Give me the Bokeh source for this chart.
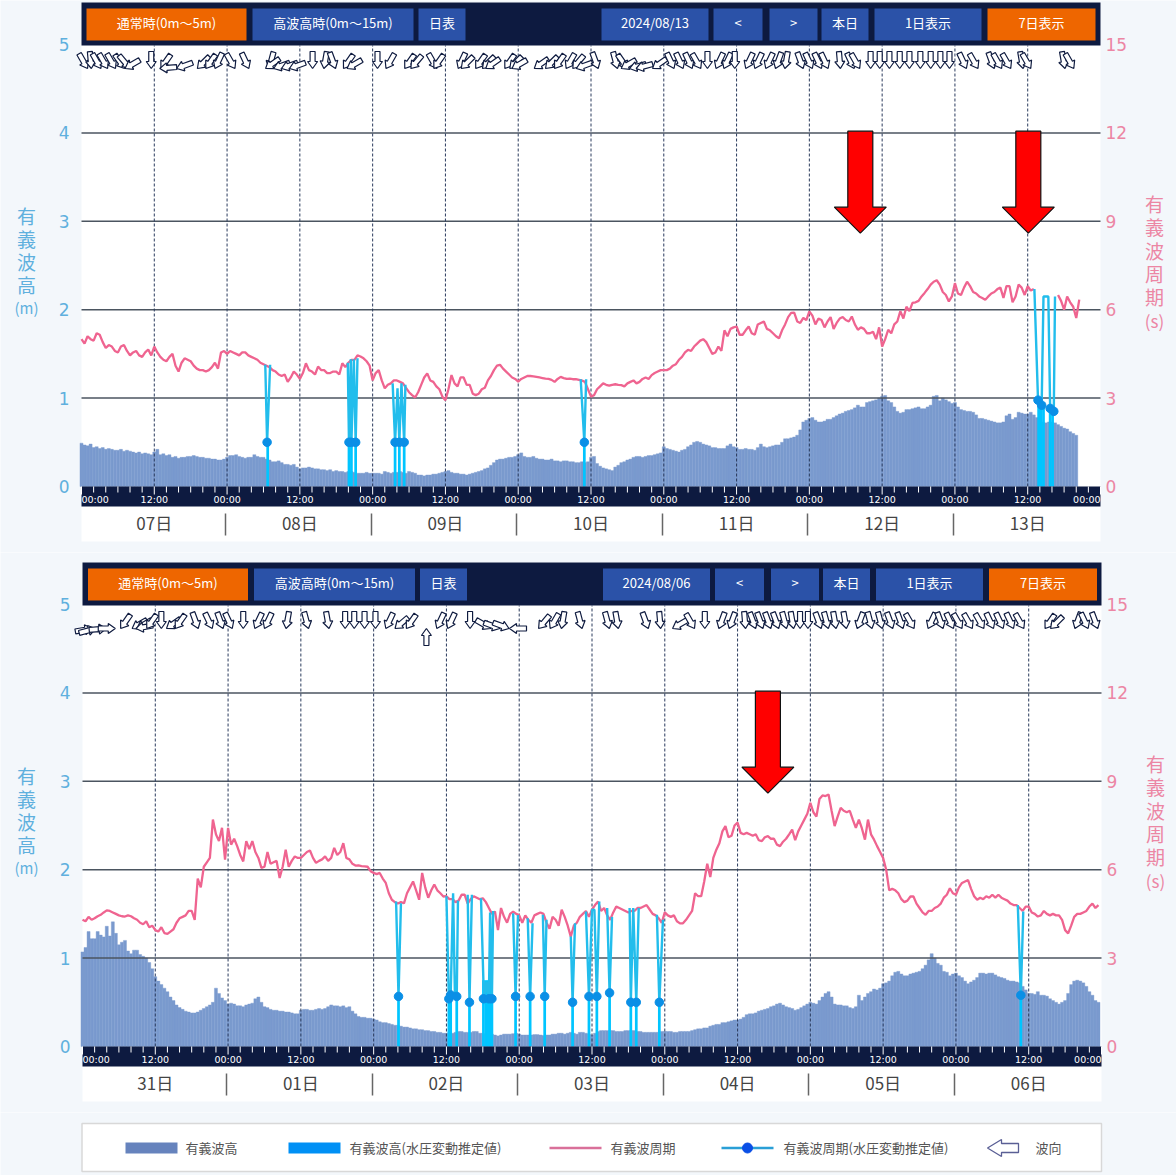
import math
from bokeh.plotting import figure
from bokeh.layouts import column
from bokeh.models import Range1d, LinearAxis, FixedTicker
from bokeh.core.properties import value
from bokeh.embed import file_html
from bokeh.resources import INLINE

NAN = float("nan")
STEP = 0.5  # hours between samples
# ---------- chart 1 (2024/08/07 - 13) ----------
days1 = ["07日", "08日", "09日", "10日", "11日", "12日", "13日"]
date1 = "2024/08/13"
height1 = [.49,.47,.46,.48,.44,.45,.43,.44,.42,.43,.42,.41,.41,.42,.40,.41,.40,.39,.38,.39,.37,.38,.37,.36,.39,.42,.36,.37,.35,.36,.33,.34,.32,.33,.33,.34,.34,.35,.34,.33,.33,.32,.32,.31,.31,.30,.30,.31,
           .33,.35,.35,.36,.34,.33,.32,.33,.33,.36,.34,.33,.33,.31,.30,.28,.28,.29,.27,.25,.25,.24,.25,.22,.20,.21,.21,.22,.21,.20,.20,.19,.19,.18,.19,.17,.18,.17,.17,.16,.17,.17,.16,.15,.15,.15,.16,.15,
           .15,.15,.15,.14,.17,.16,.15,.16,.16,.17,.16,.15,.17,.16,.15,.13,.13,.12,.13,.13,.14,.14,.15,.16,.17,.18,.16,.15,.15,.14,.14,.13,.14,.15,.16,.17,.18,.20,.21,.24,.27,.30,.31,.31,.32,.33,.33,.34,
           .36,.38,.34,.33,.33,.34,.32,.31,.31,.30,.30,.31,.29,.29,.28,.29,.29,.28,.28,.27,.27,.28,.27,.28,.33,.34,.26,.23,.21,.20,.19,.18,.22,.24,.27,.28,.30,.31,.33,.34,.34,.33,.34,.35,.35,.36,.37,.38,
           .45,.43,.42,.41,.40,.39,.41,.42,.45,.47,.50,.51,.50,.48,.47,.46,.44,.44,.43,.43,.43,.46,.48,.45,.44,.42,.42,.43,.42,.42,.41,.44,.48,.45,.44,.45,.46,.47,.47,.50,.54,.54,.55,.56,.58,.64,.73,.75,
           .77,.78,.75,.73,.73,.74,.76,.76,.78,.80,.82,.83,.85,.86,.87,.89,.92,.90,.90,.95,.96,.97,.98,1.0,1.02,1.03,.97,.95,.90,.85,.83,.84,.87,.87,.88,.89,.90,.88,.88,.90,.92,1.02,1.03,.97,1.00,.98,.96,.94,
           .95,.90,.87,.86,.85,.85,.84,.81,.77,.77,.76,.75,.74,.73,.72,.72,.73,.80,.82,.76,.78,.84,.83,.82,.82,.84,.81,.78,.74,.73,.72,.73,.73,.72,.70,.68,.66,.65,.62,.60,.58]
period1 = [5.0,4.85,5.1,5.0,4.95,5.2,5.15,4.9,4.7,4.8,4.75,4.6,4.55,4.75,4.8,4.6,4.45,4.55,4.6,4.45,4.4,4.55,4.65,4.45,4.75,4.55,4.4,4.3,4.25,4.4,4.5,4.1,3.9,4.2,4.35,4.3,4.25,4.1,4.0,3.95,3.95,3.9,3.95,4.05,4.2,4.0,4.55,4.6,
           4.5,4.6,4.55,4.5,4.45,4.55,4.55,4.45,4.4,4.35,4.3,4.2,4.15,4.1,4.05,3.95,3.9,3.8,3.75,3.8,3.55,3.7,3.9,3.8,3.65,3.85,4.18,3.95,3.9,3.8,4.07,3.95,3.95,3.85,3.85,3.9,3.9,3.8,4.18,4.05,4.2,4.3,4.3,4.45,4.41,4.35,4.25,4.1,
           3.6,3.85,3.95,3.6,3.33,3.45,3.5,3.6,3.6,3.55,3.5,3.35,3.2,3.1,3.02,3.2,3.45,3.7,3.84,3.6,3.55,3.4,3.3,3.05,2.93,3.3,3.78,3.5,3.4,3.7,3.7,3.45,3.45,3.15,3.1,3.15,3.3,3.35,3.6,3.75,3.95,4.1,4.13,4.0,3.9,3.8,3.7,3.65,
           3.56,3.65,3.7,3.75,3.75,3.74,3.72,3.7,3.68,3.66,3.65,3.62,3.55,3.65,3.72,3.68,3.65,3.66,3.64,3.64,3.62,3.6,3.55,3.3,3.05,3.1,3.3,3.4,3.5,3.45,3.42,3.45,3.47,3.45,3.44,3.4,3.5,3.55,3.6,3.5,3.55,3.65,3.7,3.65,3.78,3.85,3.9,3.95,
           3.95,3.95,4.0,4.1,4.15,4.3,4.4,4.55,4.64,4.6,4.75,4.85,4.95,5.0,4.9,4.7,4.5,4.55,4.75,4.6,5.3,5.1,5.35,5.4,5.43,5.15,5.15,5.3,5.43,5.2,5.15,5.5,5.55,5.6,5.35,5.3,5.2,5.1,5.03,5.3,5.5,5.75,5.89,5.9,5.6,5.55,5.72,5.65,
           5.94,5.8,5.5,5.7,5.65,5.4,5.6,5.75,5.35,5.55,5.7,5.75,5.65,5.6,5.77,5.5,5.32,5.4,5.35,5.2,5.2,5.25,5.0,5.4,4.75,5.0,5.32,5.2,5.5,5.6,5.95,5.7,6.1,5.95,6.23,6.25,6.3,6.45,6.57,6.7,6.85,6.95,7.0,6.85,6.6,6.5,6.28,6.45,
           6.9,6.55,6.5,6.75,6.95,6.8,6.6,6.55,6.45,6.4,6.34,6.45,6.55,6.6,6.7,6.75,6.4,6.8,6.8,6.25,6.45,6.85,6.75,6.5,6.8,6.65,6.7,NAN,NAN,NAN,NAN,NAN,NAN,NAN,6.5,6.3,6.0,6.45,6.25,6.1,5.72,6.34]
pp_h1 = [30.3,30.6,31.1,NAN,43.9,44.1,44.4,44.5,44.9,45.2,45.5,NAN,51.3,51.7,52.1,52.4,52.75,53.2,53.4,NAN,
         82.3,82.9,83.2,NAN,157.1,157.7,158.3,158.6,159.4,159.7,160.3,160.5]
pp_v1 = [4.13,1.5,4.13,NAN,4.2,1.5,4.32,1.5,4.32,1.5,4.35,NAN,3.5,1.5,3.33,1.5,3.5,1.5,3.45,NAN,
         3.64,1.5,3.64,NAN,6.7,2.93,2.76,6.45,6.45,2.65,2.55,6.45]
dot_h1 = [30.6,44.1,44.5,45.2,51.7,52.4,53.2,82.9,157.7,158.3,159.7,160.3]
dot_v1 = [1.5,1.5,1.5,1.5,1.5,1.5,1.5,1.5,2.93,2.76,2.65,2.55]
bar_h1 = [30.7,44.1,44.5,45.2,51.7,52.4,53.2,82.9,157.8,158.2,158.6,159.7,160.1]
bar_t1 = [.5,.5,.5,.5,.5,.5,.5,.5,.95,.92,.9,.88,.85]
dir_h1 = [.3,1.5,2.5,3.6,4.9,6.3,7.1,8.4,11.5,13.9,14.3,17.0,20.1,21.3,22.6,24.6,27.0,31.3,31.5,33.0,34.3,35.6,38.1,40.2,41.4,
          44.0,45.0,48.8,50.9,54.1,55.2,57.9,58.9,62.7,63.6,65.8,67.1,67.8,70.6,71.6,72.2,75.8,77.5,78.8,80.6,81.9,82.9,84.7,
          88.0,89.2,90.2,91.7,92.8,95.3,97.1,98.6,100.1,101.4,103.2,105.2,106.5,107.7,110.1,111.6,113.4,114.9,116.2,118.5,119.9,
          121.4,122.5,125.0,126.8,127.6,130.1,131.6,133.2,134.9,136.5,138.3,140.0,141.6,143.1,145.3,147.1,150.0,151.0,152.5,155.0,155.8,161.9,162.9]
dir_d1 = [150,175,150,150,150,145,140,240,180,215,265,250,225,215,205,150,155,195,235,250,250,250,180,190,160,
          215,240,180,210,215,220,150,215,205,225,215,225,235,215,225,240,235,225,215,210,220,250,160,
          165,145,240,255,255,235,155,155,155,150,180,205,205,180,205,205,205,200,190,160,155,
          155,155,175,155,150,180,180,180,180,180,180,180,180,180,155,150,160,150,150,170,150,170,150]
mark_h1 = [128.4, 156.1]

# ---------- chart 2 (2024/07/31 - 08/06) ----------
days2 = ["31日", "01日", "02日", "03日", "04日", "05日", "06日"]
date2 = "2024/08/06"
height2 = [1.07,1.12,1.30,1.22,1.22,1.30,1.26,1.24,1.36,1.25,1.41,1.28,1.15,1.18,1.20,1.08,1.05,1.09,1.09,1.04,1.02,1.0,.95,.88,.79,.74,.70,.66,.62,.56,.52,.47,.44,.42,.40,.39,.38,.38,.39,.41,.43,.45,.47,.50,.66,.60,.55,.52,
           .48,.49,.48,.46,.46,.45,.47,.48,.49,.54,.56,.50,.45,.44,.42,.41,.41,.40,.40,.39,.39,.38,.37,.37,.41,.42,.42,.41,.41,.42,.43,.42,.43,.45,.47,.46,.46,.45,.46,.44,.45,.40,.37,.34,.33,.33,.32,.32,
           .31,.30,.28,.27,.27,.26,.25,.24,.24,.23,.22,.22,.21,.20,.20,.19,.19,.18,.18,.17,.17,.16,.16,.15,.15,.16,.15,.16,.17,.17,.16,.16,.16,.17,.17,.15,.15,.14,.14,.14,.13,.12,.13,.14,.14,.14,.145,.15,
           .14,.13,.13,.13,.13,.135,.135,.13,.125,.13,.13,.14,.14,.15,.15,.14,.15,.16,.15,.14,.16,.16,.15,.14,.13,.15,.17,.18,.18,.18,.18,.18,.17,.17,.17,.18,.18,.18,.18,.17,.17,.16,.16,.16,.16,.16,.16,.17,
           .17,.17,.17,.16,.16,.17,.17,.17,.17,.18,.19,.20,.2,.21,.21,.23,.24,.25,.25,.27,.27,.28,.29,.30,.30,.31,.33,.36,.37,.37,.38,.40,.41,.42,.43,.45,.46,.48,.49,.47,.45,.44,.43,.41,.42,.44,.46,.48,
           .5,.49,.48,.52,.56,.60,.62,.56,.48,.47,.47,.46,.46,.44,.43,.45,.58,.52,.56,.60,.62,.65,.64,.66,.71,.72,.74,.80,.84,.85,.82,.80,.80,.82,.83,.84,.85,.88,.92,.98,1.05,1.0,.94,.92,.85,.84,.80,.82,
           .83,.80,.78,.74,.71,.73,.75,.78,.83,.83,.82,.83,.83,.81,.79,.78,.77,.75,.74,.74,.73,.72,.68,.64,.60,.60,.59,.62,.58,.58,.57,.54,.52,.50,.48,.50,.52,.60,.70,.74,.75,.74,.72,.68,.62,.58,.52,.50]
period2 = [4.3,4.25,4.4,4.3,4.35,4.42,4.47,4.55,4.62,4.6,4.55,4.5,4.45,4.42,4.41,4.45,4.42,4.35,4.3,4.2,4.15,4.25,4.05,4.1,3.95,3.9,4.05,3.85,3.82,3.9,3.98,4.2,4.35,4.4,4.45,4.6,4.6,4.3,5.7,5.4,6.1,6.25,6.4,7.7,7.2,6.97,7.42,6.34,
           7.42,6.85,7.05,6.8,6.5,6.28,6.97,6.7,6.97,6.6,6.4,6.06,6.1,6.6,6.2,6.25,6.3,5.72,6.1,6.68,6.1,6.3,6.45,6.4,6.4,6.5,6.6,6.65,6.4,6.23,6.3,6.35,6.45,6.3,6.4,6.74,6.5,6.6,6.9,6.4,6.35,6.2,6.14,6.15,6.12,6.11,6.1,5.95,
           5.89,5.85,5.89,5.7,5.55,5.2,4.98,4.9,4.85,4.9,4.86,5.2,5.4,5.6,5.3,4.98,5.89,5.4,5.05,5.3,5.5,5.3,5.2,5.09,5.1,5.0,5.0,4.9,4.95,5.15,5.15,4.85,5.0,5.1,5.05,5.0,5.03,4.9,4.7,4.5,4.58,3.95,4.7,4.4,4.2,4.5,4.58,4.5,
           4.45,4.2,4.45,4.3,4.2,4.45,4.5,4.55,4.5,4.2,4.0,4.4,4.3,4.1,4.64,4.4,4.1,3.73,4.1,4.2,4.4,4.5,4.6,4.4,4.65,4.8,4.92,4.6,4.7,4.45,4.3,4.55,4.75,4.7,4.65,4.6,4.55,4.6,4.6,4.7,4.7,4.75,4.8,4.65,4.5,4.45,4.35,4.2,
           4.55,4.45,4.4,4.45,4.25,4.18,4.18,4.3,4.45,4.6,5.2,5.1,5.1,5.6,6.2,5.75,6.4,6.68,6.9,7.3,7.48,7.1,7.15,7.5,7.6,7.25,7.2,7.25,7.2,7.15,7.2,7.0,6.97,7.1,7.14,7.05,7.05,6.85,6.8,6.95,7.05,7.2,7.36,7.0,7.3,7.5,7.7,7.9,
           8.27,7.95,7.8,8.4,8.52,8.5,8.55,8.0,7.48,7.8,8.1,8.0,7.95,8.0,7.7,7.42,7.7,7.4,7.02,7.7,7.2,7.02,6.8,6.6,6.4,6.0,5.3,5.35,5.3,5.2,5.0,4.9,4.95,5.09,5.09,4.85,4.7,4.55,4.47,4.6,4.6,4.7,4.75,4.85,5.05,5.15,5.37,5.2,
           5.15,5.4,5.55,5.6,5.65,5.35,5.1,4.98,5.05,5.0,5.1,5.05,5.15,5.05,5.15,5.05,5.0,4.95,4.85,4.8,4.8,4.7,4.6,4.75,4.75,4.55,4.5,4.41,4.45,4.6,4.5,4.45,4.5,4.45,4.45,4.3,3.95,3.84,4.1,4.4,4.5,4.5,4.55,4.6,4.75,4.85,4.7,4.8]
pp_h2 = [51.7,52.1,52.5,NAN,60.0,60.4,60.7,61.1,61.4,61.7,61.9,NAN,63.5,63.8,64.2,NAN,
         65.7,66.1,66.3,66.6,67.0,67.2,67.5,67.7,NAN,71.0,71.4,71.8,NAN,73.4,73.8,74.2,NAN,75.9,76.2,76.5,NAN,
         80.5,80.8,81.2,NAN,83.0,83.5,84.0,84.4,84.8,85.2,NAN,86.5,86.9,87.3,NAN,
         90.2,90.4,90.8,91.3,91.7,NAN,94.7,95.1,95.7,NAN,154.2,154.7,155.1]
pp_v2 = [4.92,1.7,4.86,NAN,5.1,1.62,1.75,5.2,1.75,1.7,4.95,NAN,5.15,1.5,5.15,NAN,
         5.03,2.2,1.62,2.2,1.62,4.55,1.62,4.6,NAN,4.52,1.7,4.46,NAN,4.35,1.7,4.18,NAN,4.47,1.7,4.3,NAN,
         3.73,1.5,4.18,NAN,4.58,1.7,4.64,4.64,1.7,4.92,NAN,4.7,1.82,4.4,NAN,
         4.7,1.5,4.7,1.5,4.7,NAN,4.47,1.5,4.3,NAN,4.8,1.74,4.58]
dot_h2 = [52.1,60.4,60.7,61.7,63.8,66.1,67.0,67.5,71.4,73.8,76.2,80.8,83.5,84.8,86.9,90.4,91.3,95.1,154.7]
dot_v2 = [1.7,1.62,1.75,1.7,1.5,1.62,1.62,1.62,1.7,1.7,1.7,1.5,1.7,1.7,1.82,1.5,1.5,1.5,1.74]
bar_h2 = [52.1,60.4,60.7,61.7,63.8,66.1,66.5,66.9,67.2,67.5,71.4,73.8,76.2,80.8,83.5,84.8,86.9,90.4,91.3,95.1,154.7]
bar_t2 = [.57,.54,.58,.57,.5,.75,.75,.75,.75,.54,.57,.57,.57,.5,.57,.57,.6,.5,.5,.5,.58]
dir_h2 = [.2,.8,2.5,4.0,7.1,9.4,10.2,10.2,11.4,13.0,15.0,16.1,18.6,20.8,22.7,24.1,26.5,29.0,30.6,33.8,36.9,40.4,43.3,44.8,46.5,48.3,
          50.6,52.6,54.2,56.7,59.0,60.8,63.9,66.1,67.5,69.0,71.8,76.1,77.8,79.2,82.0,86.5,88.1,92.8,95.2,98.5,100.2,102.6,105.4,107.1,
          109.2,110.5,111.7,113.0,114.3,115.7,117.0,118.3,119.6,121.3,122.6,124.0,125.7,128.2,129.8,131.5,133.1,134.8,136.4,
          140.0,141.4,143.0,144.3,146.0,147.9,149.6,151.2,152.9,154.5,159.5,160.6,164.1,165.2,166.9]
dir_d2 = [80,75,85,90,215,240,240,260,215,180,235,215,160,155,160,155,180,205,205,190,165,170,180,180,180,180,
          205,230,215,0,205,205,180,120,110,110,270,220,210,190,165,165,170,160,175,240,150,180,200,200,
          175,160,160,160,160,165,170,180,180,160,165,170,170,200,165,165,160,160,150,
          205,160,155,150,150,150,155,155,155,150,215,225,200,155,160]
mark_h2 = [113.0]

tick_labels = ["00:00", "12:00"]
y_left_ticks = [0, 1, 2, 3, 4, 5]
y_right_ticks = [0, 3, 6, 9, 12, 15]
left_title = ["有", "義", "波", "高", "(m)"]
right_title = ["有", "義", "波", "周", "期", "(s)"]
buttons_left = ["通常時(0m～5m)", "高波高時(0m～15m)", "日表"]
legend_names = ["有義波高", "有義波高(水圧変動推定値)", "有義波周期", "有義波周期(水圧変動推定値)", "波向"]

# ---------- styling ----------
BG = "#f3f7fb"; NAVY = "#0d1a40"; ORANGE = "#ee6600"; BTN = "#2b52a8"
BAR = "#7a9ace"; PINK = "#ef6490"; CYAN = "#22bdec"; CYANBAR = "#00c5ff"; DOT = "#0a8fe6"
JP = "Noto Sans CJK JP"; LAT = "DejaVu Sans"
PXH = 1019 / 168; PXY = 88.4
HOURS = 168


def arrow_outline(cx_px, tip_py, deg, length, head_w, head_l, shaft_w):
    """Arrow centred on cx horizontally, with its tip on tip_py; deg = compass direction pointed at."""
    s, c = math.sin(math.radians(deg)), -math.cos(math.radians(deg))  # unit vector, screen coords (y down)
    nx, ny = -c, s
    pts = [(0, 0), (-head_l, head_w/2), (-head_l, shaft_w/2), (-length, shaft_w/2),
           (-length, -shaft_w/2), (-head_l, -shaft_w/2), (-head_l, -head_w/2)]
    tx = cx_px + s * length / 2
    return [(tx + a*s + b*nx, tip_py + a*c + b*ny) for a, b in pts]


def chart(frame_left, canvas_h, y0_px, days, date, height, period, pp_h, pp_v, dot_h, dot_v,
          bar_h, bar_t, dir_h, dir_d, mark_h, title_offset, right_title_x, left_title_x, btn_shift):
    # the whole canvas is the plot frame, so the chart panel and the texts around it share the scales
    panel_top, panel_bot = y0_px - 484, y0_px + 55
    top_val = y0_px / PXY
    bot_val = -(canvas_h - y0_px) / PXY
    p = figure(width=1176, height=canvas_h, output_backend="svg", toolbar_location=None,
               x_range=Range1d(-frame_left / PXH, (1176 - frame_left) / PXH), y_range=Range1d(bot_val, top_val),
               x_axis_type=None, y_axis_type=None, min_border=0, frame_align=False,
               background_fill_color=BG, border_fill_color=BG, outline_line_color=None)
    p.grid.visible = False
    p.extra_y_ranges["period"] = Range1d(bot_val * 3, top_val * 3)

    X = lambda px: (px - frame_left) / PXH
    Y = lambda py: (y0_px - py) / PXY     # py measured on this canvas

    # chart panel
    p.quad(left=[0], right=[HOURS], top=[Y(panel_top)], bottom=[Y(panel_bot)], fill_color="white", line_color=None)

    # bars
    hx = [i * STEP for i in range(len(height))]
    p.vbar(x=hx, top=height, bottom=0, width=STEP, fill_color=BAR, line_color=BAR, line_width=0.4)
    p.vbar(x=bar_h, top=bar_t, bottom=0, width=0.45, fill_color=CYANBAR, line_color=None)

    # grid
    p.segment(x0=[0]*4, x1=[HOURS]*4, y0=[1, 2, 3, 4], y1=[1, 2, 3, 4], line_color="#4b5560", line_width=1.5)
    vx = list(range(12, HOURS, 12))
    p.segment(x0=vx, x1=vx, y0=[0]*len(vx), y1=[Y(y0_px - 441)]*len(vx), line_color="#2a3a5c", line_width=1, line_dash="3 2")

    # series
    px_ = [i * STEP for i in range(len(period))]
    p.line(x=px_, y=period, y_range_name="period", line_color=PINK, line_width=2.3)
    p.line(x=pp_h, y=pp_v, y_range_name="period", line_color=CYAN, line_width=2.4)
    p.scatter(x=dot_h, y=dot_v, y_range_name="period", size=8.5, fill_color=DOT, line_color=DOT)

    # wave direction arrows
    xs, ys = [], []
    for h, d in zip(dir_h, dir_d):
        pts = arrow_outline(frame_left + h*PXH, y0_px - 418, d, 17, 10, 7, 5)
        xs.append([X(a) for a, _ in pts]); ys.append([Y(b) for _, b in pts])
    p.patches(xs, ys, fill_color="white", line_color="#101c40", line_width=1.2)

    # red marker arrows
    for h in mark_h:
        cx = h
        hw, sw = 26/PXH, 12.5/PXH
        p.patch([cx-sw, cx+sw, cx+sw, cx+hw, cx, cx-hw, cx-sw, cx-sw],
                [4.02, 4.02, 3.16, 3.16, 2.867, 3.16, 3.16, 4.02],
                fill_color="#ff0000", line_color="#111111", line_width=1.2)

    # header
    p.quad(left=[0], right=[HOURS], top=[Y(panel_top)], bottom=[Y(y0_px - 441)], fill_color=NAVY, line_color=None)
    spans = [(86, 246), (252, 413), (418, 465), (601, 708), (713, 762), (769, 817), (821, 868), (874, 981), (987, 1095)]
    labels = buttons_left + [date, "<", ">", "本日", "1日表示", "7日表示"]
    cols = [ORANGE, BTN, BTN, BTN, BTN, BTN, BTN, BTN, ORANGE]
    ltop, lbot = Y(y0_px - 478), Y(y0_px - 446)
    p.quad(left=[X(a+btn_shift) for a, _ in spans], right=[X(b+btn_shift) for _, b in spans],
           top=[ltop]*9, bottom=[lbot]*9, fill_color=cols, line_color=None)
    p.text(x=[X((a+b)/2+btn_shift) for a, b in spans], y=[Y(y0_px - 464.5)]*9, text=labels, text_color="white",
           text_font=value(JP), text_font_size="13px", text_align="center", text_baseline="middle")

    # time strip
    p.quad(left=[0], right=[HOURS], top=[0], bottom=[Y(y0_px + 20)], fill_color=NAVY, line_color=None)
    mt = list(range(0, HOURS + 1, 2))
    p.segment(x0=mt, x1=mt, y0=[0]*len(mt),
              y1=[Y(y0_px + (8 if m % 12 == 0 else 6)) for m in mt], line_color="white", line_width=1)
    major = list(range(0, HOURS + 1, 12))
    overrides = {m: tick_labels[(m // 12) % 2] for m in major}
    overrides[0] = ""; overrides[HOURS] = ""
    strip = LinearAxis(fixed_location=0, ticker=FixedTicker(ticks=major, minor_ticks=[]),
                       major_label_overrides=overrides, axis_line_color=None,
                       major_tick_in=0, major_tick_out=0, major_tick_line_color=None, minor_tick_line_color=None,
                       major_label_standoff=7, major_label_text_color="white",
                       major_label_text_font=LAT, major_label_text_font_size="9.5px")
    p.add_layout(strip, "below")
    for h, al in ((0, "left"), (HOURS, "right")):
        p.text(x=[h], y=[Y(y0_px + 12.5)], text=[tick_labels[0]], text_color="white", text_font=value(LAT),
               text_font_size="9.5px", text_align=al, text_baseline="middle")

    # day axis
    mids = list(range(12, HOURS, 24))
    day_axis = LinearAxis(fixed_location=Y(y0_px + 27),
                          ticker=FixedTicker(ticks=mids, minor_ticks=[x - 0.25 for x in range(24, HOURS, 24)]),
                          major_label_overrides=dict(zip(mids, days)), axis_line_color=None,
                          major_tick_line_color=None, major_tick_in=0, major_tick_out=0,
                          minor_tick_in=0, minor_tick_out=22, minor_tick_line_color="#666666", minor_tick_line_width=1.5,
                          major_label_standoff=-26, major_label_text_color="#444444",
                          major_label_text_font=JP, major_label_text_font_size="17px")
    p.add_layout(day_axis, "below")

    # y axes
    la = LinearAxis(fixed_location=0, ticker=FixedTicker(ticks=y_left_ticks), axis_line_color=None, major_tick_line_color=None,
                    minor_tick_line_color=None, major_label_standoff=6, major_label_text_color="#5fb0de",
                    major_label_text_font=LAT, major_label_text_font_size="17px")
    p.add_layout(la, "left")
    ra = LinearAxis(fixed_location=HOURS, y_range_name="period", ticker=FixedTicker(ticks=y_right_ticks), axis_line_color=None,
                    major_tick_line_color=None, minor_tick_line_color=None, major_label_standoff=-1,
                    major_label_text_color="#ec86a4", major_label_text_font=LAT, major_label_text_font_size="17px")
    p.add_layout(ra, "right")

    # axis titles (stacked)
    for i, ch in enumerate(left_title):
        p.text(x=[X(left_title_x)], y=[Y(title_offset[0] + i*23)], text=[ch], text_color="#5fb0de",
               text_font=value(JP), text_font_size="19px" if i < 4 else "15px", text_align="center", text_baseline="middle")
    for i, ch in enumerate(right_title):
        p.text(x=[X(right_title_x)], y=[Y(title_offset[1] + i*23.3)], text=[ch], text_color="#ec86a4",
               text_font=value(JP), text_font_size="19px" if i < 5 else "17px", text_align="center", text_baseline="middle")
    return p


p1 = chart(81, 552, 486, days1, date1, height1, period1, pp_h1, pp_v1, dot_h1, dot_v1, bar_h1, bar_t1,
           dir_h1, dir_d1, mark_h1, (215, 203), 1154, 26, 0)
p2 = chart(82, 560, 494, days2, date2, height2, period2, pp_h2, pp_v2, dot_h2, dot_v2, bar_h2, bar_t2,
           dir_h2, dir_d2, mark_h2, (223, 211), 1155, 26, 1.5)

# ---------- legend ----------
lg = figure(width=1176, height=63, output_backend="svg", toolbar_location=None, x_range=Range1d(0, 1176),
            y_range=Range1d(63, 0), x_axis_type=None, y_axis_type=None, min_border=0, frame_align=False,
            background_fill_color=BG, border_fill_color=BG, outline_line_color=None)
lg.grid.visible = False
lg.quad(left=[81.5], right=[1101], top=[11], bottom=[59], fill_color="white", line_color="#d8d8d8", line_width=1.5)
lg.quad(left=[125], right=[177], top=[30], bottom=[41], fill_color="#6683bd", line_color=None)
lg.quad(left=[288], right=[340], top=[30], bottom=[41], fill_color="#0090f5", line_color=None)
lg.line([549, 601], [35.5, 35.5], line_color="#d9709a", line_width=2.5)
lg.line([721, 773], [35.5, 35.5], line_color="#2a9fd6", line_width=2.5)
lg.scatter([747], [35.5], size=10, fill_color="#0a4fe6", line_color="#0a4fe6")
pts = arrow_outline(1002.5, 35.5, 270, 31, 17, 14, 9)
lg.patch([a for a, _ in pts], [b for _, b in pts], fill_color="white", line_color="#5a5f95", line_width=1.3)
lg.text(x=[185, 349, 610, 783, 1035], y=[34.5]*5, text=legend_names, text_color="#555555",
        text_font=value(JP), text_font_size="13px", text_align="left", text_baseline="middle")

page = column(p1, p2, lg, margin=(0, 0, 0, 0), spacing=0)
open("out.html", "w").write(file_html(page, INLINE))
